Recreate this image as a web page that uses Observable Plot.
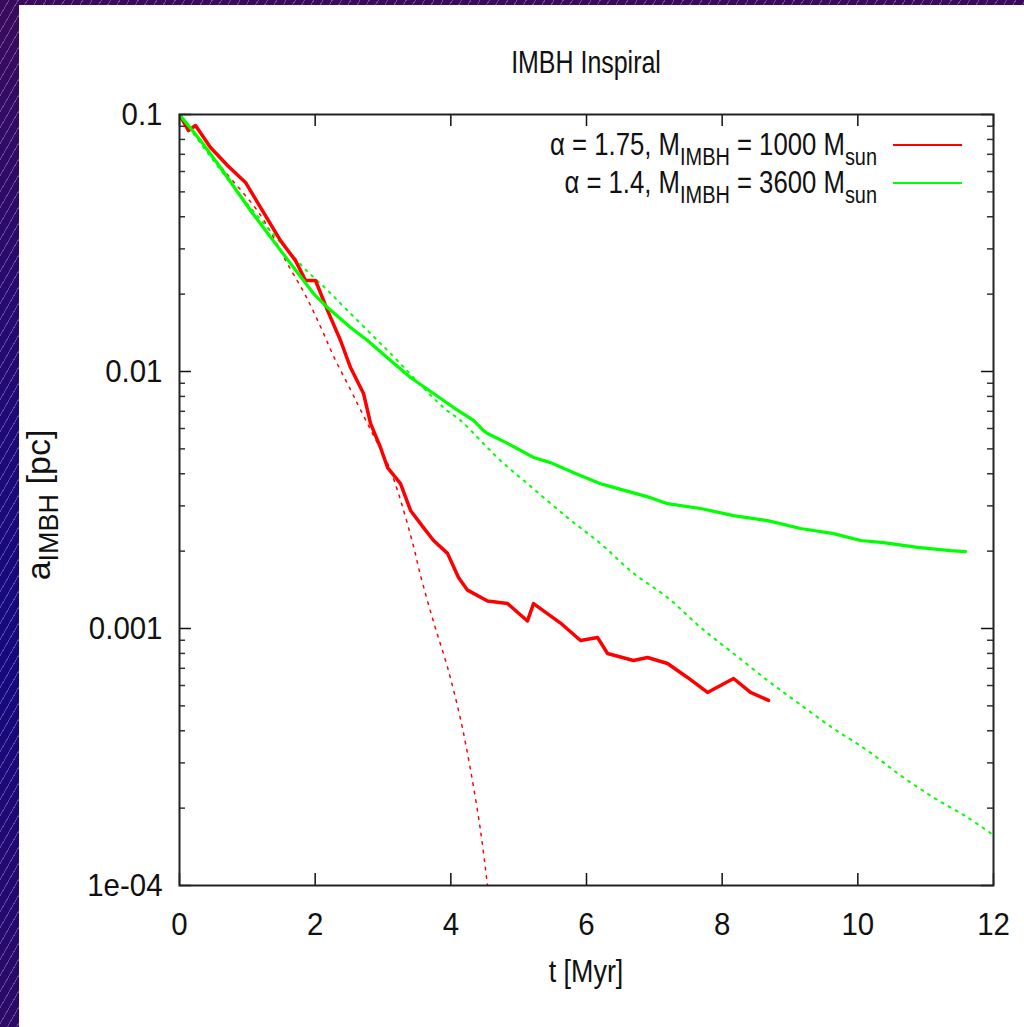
<!DOCTYPE html>
<html>
<head>
<meta charset="utf-8">
<script src="https://cdn.jsdelivr.net/npm/d3@7"></script>
<script src="https://cdn.jsdelivr.net/npm/@observablehq/plot@0.6"></script>
<style>
  html, body { margin: 0; padding: 0; }
  body {
    width: 1024px; height: 1027px; overflow: hidden; position: relative;
    background:
      repeating-linear-gradient(-60deg, rgba(210,190,255,0.35) 0px, rgba(210,190,255,0.35) 1px, transparent 1px, transparent 8px),
      linear-gradient(180deg, #3a0b5c 0%, #1c0a78 45%, #14097e 65%, #2c0a66 100%);
  }
  #panel { position: absolute; left: 19px; top: 5px; width: 1005px; height: 1022px; background: #ffffff; }
  #panel svg { display: block; }
</style>
</head>
<body>
<div id="panel"></div>
<script>
// ---- data ----
const tRed = [0,0.133,0.236,0.457,0.708,0.973,1.194,1.489,1.710,1.858,2.005,2.182,2.374,2.521,2.713,2.816,2.963,3.067,3.258,3.406,3.597,3.745,3.951,4.113,4.246,4.541,4.836,5.130,5.219,5.617,5.912,6.162,6.310,6.693,6.900,7.195,7.489,7.784,8.168,8.418,8.683];
const aRed = [0.1,0.0866,0.0906,0.0744,0.0633,0.0544,0.0435,0.0323,0.0270,0.0226,0.0226,0.0173,0.0132,0.01036,0.00821,0.00628,0.00506,0.00423,0.00366,0.00288,0.00247,0.00220,0.00196,0.00158,0.00141,0.00128,0.00125,0.00107,0.00125,0.00105,0.000898,0.000923,0.000799,0.000751,0.000771,0.000731,0.000645,0.000564,0.000639,0.000564,0.000525];

const tGreen = [0,0.310,0.604,1.047,1.489,1.976,2.182,2.521,2.772,3.111,3.406,3.745,4.040,4.334,4.482,4.541,4.836,5.219,5.470,5.838,6.207,6.398,6.944,7.194,7.681,8.168,8.669,9.155,9.642,10.040,10.379,10.880,11.367,11.588];
const aGreen = [0.1,0.0792,0.0622,0.0423,0.0296,0.0201,0.01774,0.01483,0.0132,0.01104,0.00948,0.00821,0.00724,0.00645,0.00589,0.00574,0.00525,0.00463,0.00442,0.00401,0.00366,0.00354,0.00323,0.00306,0.00293,0.00275,0.00263,0.00245,0.00234,0.0022,0.00216,0.00207,0.00201,0.00199];

const tRedFit = [0,0.6,1.19,1.59,1.83,1.98,2.12,2.27,2.52,2.67,2.92,3.07,3.21,3.45,3.55,3.75,3.95,4.14,4.29,4.44,4.54];
const aRedFit = [0.1,0.0631,0.0407,0.0263,0.0204,0.0170,0.01413,0.01148,0.00851,0.00708,0.00525,0.00437,0.00347,0.00209,0.00162,0.00105,0.000708,0.000447,0.000282,0.000162,0.0001];

const tGreenFit = [0,0.899,1.828,2.182,2.418,2.668,2.919,3.111,3.892,4.143,4.438,4.732,5.130,5.720,6.207,6.693,7.194,7.681,8.168,8.669,9.111,9.642,10.143,10.630,11.116,11.617,12.0];
const aGreenFit = [0.1,0.0484,0.0254,0.0207,0.0179,0.01538,0.0132,0.01175,0.00724,0.00645,0.00539,0.0045,0.00366,0.0027,0.00214,0.00164,0.00132,0.00101,0.000799,0.000628,0.000515,0.000408,0.000335,0.000268,0.00022,0.000184,0.000157];

const xTicks = [0,2,4,6,8,10,12];
const yTicks = [0.0001,0.001,0.01,0.1];
const yTickLabels = ["1e-04","0.001","0.01","0.1"];
const yMinor = [0.0002,0.0003,0.0004,0.0005,0.0006,0.0007,0.0008,0.0009,
                0.002,0.003,0.004,0.005,0.006,0.007,0.008,0.009,
                0.02,0.03,0.04,0.05,0.06,0.07,0.08,0.09];

const title = "IMBH Inspiral";
const xLabel = "t [Myr]";
const legendRows = [
  {alpha: "1.75", mass: "1000", color: "#ff0000"},
  {alpha: "1.4",  mass: "3600", color: "#00ff00"}
];

// ---- build tables ----
const zip = (t, a) => t.map((v, i) => ({t: v, a: a[i]}));
const red = zip(tRed, aRed), green = zip(tGreen, aGreen);
const redFit = zip(tRedFit, aRedFit), greenFit = zip(tGreenFit, aGreenFit);

const W = 1005, H = 1022;
const mL = 160, mR = 31, mT = 109, mB = 142;
const fw = W - mL - mR, fh = H - mT - mB;
const FONT = '"Liberation Sans", Arial, Helvetica, sans-serif';

const chart = Plot.plot({
  width: W, height: H,
  marginLeft: mL, marginRight: mR, marginTop: mT, marginBottom: mB,
  style: {fontFamily: FONT, fontSize: "32px", color: "#111", background: "transparent"},
  x: {domain: [0, 12]},
  y: {type: "log", domain: [0.0001, 0.1]},
  marks: [
    Plot.line(redFit, {x: "t", y: "a", stroke: "#ff0000", strokeWidth: 1.5, strokeDasharray: "2.5,6", curve: "catmull-rom", clip: true}),
    Plot.line(greenFit, {x: "t", y: "a", stroke: "#00ff00", strokeWidth: 2, strokeDasharray: "2,6", curve: "catmull-rom", clip: true}),
    Plot.line(red, {x: "t", y: "a", stroke: "#ff0000", strokeWidth: 3.5, clip: true}),
    Plot.line(green, {x: "t", y: "a", stroke: "#00ff00", strokeWidth: 3.2, clip: true}),
    // inward major ticks
    Plot.ruleX(xTicks, {x: d => d, insetBottom: fh - 12, stroke: "#111", strokeWidth: 1.5}),
    Plot.ruleX(xTicks, {x: d => d, insetTop: fh - 12, stroke: "#111", strokeWidth: 1.5}),
    Plot.ruleY(yTicks, {y: d => d, insetRight: fw - 12, stroke: "#111", strokeWidth: 1.5}),
    Plot.ruleY(yTicks, {y: d => d, insetLeft: fw - 12, stroke: "#111", strokeWidth: 1.5}),
    Plot.ruleY(yMinor, {y: d => d, insetRight: fw - 6, stroke: "#333", strokeWidth: 1.5}),
    Plot.ruleY(yMinor, {y: d => d, insetLeft: fw - 6, stroke: "#333", strokeWidth: 1.5}),
    Plot.axisX(xTicks, {tickSize: 0, tickPadding: 27, label: null, fontSize: 32}),
    Plot.axisY(yTicks, {tickSize: 0, tickPadding: 17, label: null, fontSize: 32,
      tickFormat: d => yTickLabels[yTicks.indexOf(d)]}),
    Plot.frame({stroke: "#222", strokeWidth: 2})
  ]
});

document.getElementById("panel").appendChild(chart);

const svg = d3.select(chart);

// horizontally condense tick labels (gnuplot's narrow Helvetica look)
svg.selectAll('g[aria-label$="tick label"] text').each(function () {
  const x = this.getAttribute("x"), y = this.getAttribute("y");
  let tr = this.getAttribute("transform") || "";
  if (x !== null && !isNaN(+x)) { tr += ` translate(${x},0)`; this.removeAttribute("x"); }
  if (y !== null && !isNaN(+y)) { tr += ` translate(0,${y})`; this.removeAttribute("y"); }
  this.setAttribute("transform", tr + " scale(0.92,1)");
});

const cx = mL + fw / 2;
const addText = (x, y, sx, size, anchor) => svg.append("text")
  .attr("transform", `translate(${x},${y}) scale(${sx},1)`)
  .attr("text-anchor", anchor)
  .style("font-family", FONT).style("font-size", size + "px").attr("fill", "#111");

// title
addText(cx, 68, 0.78, 32, "middle").text(title);

// x label
addText(cx, 977, 0.84, 32, "middle").text(xLabel);

// y label with subscript
const yl = svg.append("text")
  .attr("transform", `translate(31,500) rotate(-90)`)
  .attr("text-anchor", "middle")
  .style("font-family", FONT).style("font-size", "34px").attr("fill", "#111");
yl.append("tspan").text("a");
yl.append("tspan").attr("dy", 8).style("font-size", "27px").text("IMBH");
yl.append("tspan").attr("dy", -8).text(" [pc]");

// legend
legendRows.forEach((r, i) => {
  const yb = 150 + i * 38;
  const t = addText(858, yb, 0.83, 31, "end");
  t.append("tspan").text(`\u03b1 = ${r.alpha}, M`);
  t.append("tspan").attr("dy", 10).style("font-size", "24px").text("IMBH");
  t.append("tspan").attr("dy", -10).text(` = ${r.mass} M`);
  t.append("tspan").attr("dy", 10).style("font-size", "24px").text("sun");
  svg.append("line")
    .attr("x1", 874).attr("x2", 943)
    .attr("y1", yb - 10).attr("y2", yb - 10)
    .attr("stroke", r.color).attr("stroke-width", 2);
});
</script>
</body>
</html>
